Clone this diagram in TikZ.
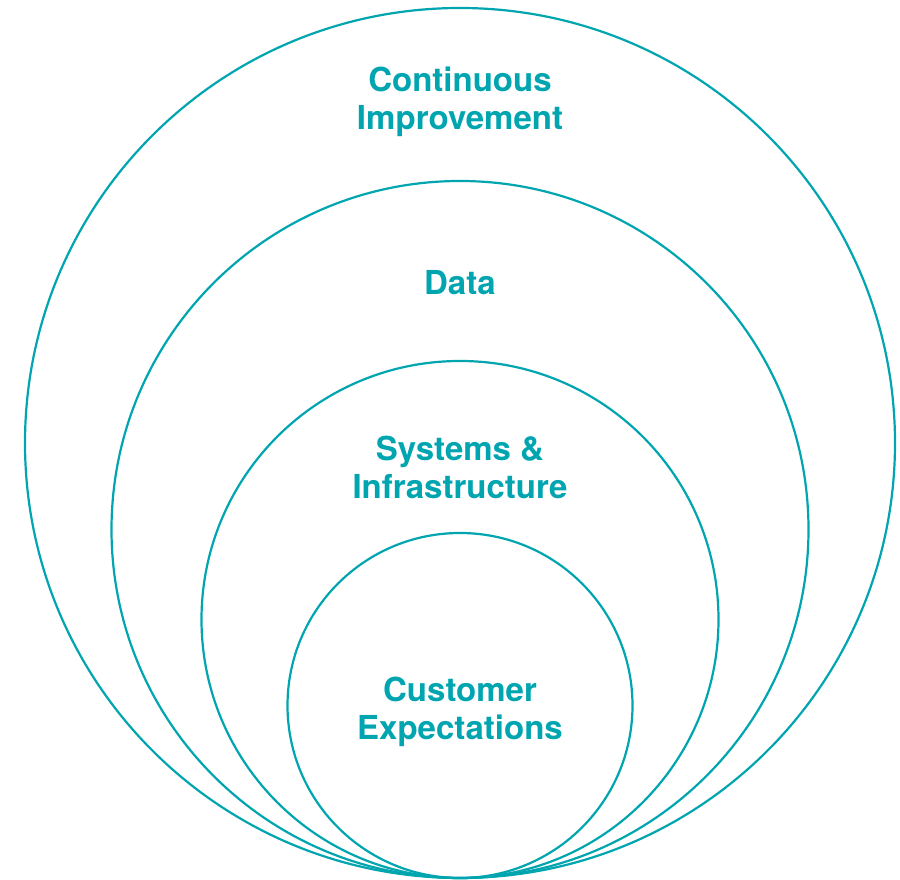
\documentclass[tikz,border=0pt]{standalone}
\usepackage{fontspec}
\setmainfont{TeX Gyre Heros}
\usetikzlibrary{positioning}
\definecolor{teal}{HTML}{00A5B0}

\begin{document}
\begin{tikzpicture}[x=1pt, y=1pt,
    ring/.style={circle, draw=teal, line width=2.2pt, inner sep=0pt},
    label/.style={text=teal, font=\bfseries\fontsize{33}{38}\selectfont, align=center, inner sep=0pt}]
  \useasboundingbox (0,0) rectangle (900,880);
  \node[ring, minimum size=870pt] (improve) at (460,437) {};
  \node[ring, minimum size=697pt] (data)    at (460,350.5) {};
  \node[ring, minimum size=517pt] (systems) at (460,260.5) {};
  \node[ring, minimum size=345pt] (customer) at (460,174.5) {};
  \node[label] (improve-t)  at (460,778)   {Continuous\\Improvement};
  \node[label] (data-t)     at (460,597)   {Data};
  \node[label] (systems-t)  at (460,412.5) {Systems \&\\Infrastructure};
  \node[label] (customer-t) at (460,168)   {Customer\\Expectations};
\end{tikzpicture}
\end{document}
